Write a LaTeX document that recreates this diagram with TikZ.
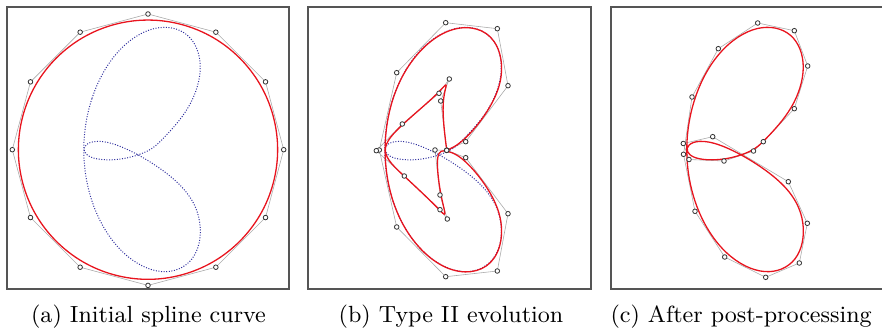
\documentclass[tikz,border=0pt]{standalone}
\usepackage{tikz}
\usetikzlibrary{calc}
\definecolor{ccurve}{HTML}{E8141E}
\definecolor{ctarget}{HTML}{30309E}
\definecolor{cpoly}{HTML}{ABABAB}
\definecolor{cpoint}{HTML}{333333}
\definecolor{cframe}{HTML}{555555}
\tikzset{
  frame/.style={draw=cframe, line width=1.2pt},
  cpoly/.style={draw=cpoly, line width=0.6pt, line join=round},
  cpoint/.style={draw=cpoint, fill=white, line width=0.8pt},
  crv/.style={draw=ccurve, line width=1.3pt, line join=round},
  tgt/.style={draw=ctarget, line width=1pt, dash pattern=on 1pt off 1.6pt},
  subcap/.style={font=\fontsize{9}{11}\selectfont, scale=2.6, inner sep=0pt},
}
% closed uniform cubic B-spline through control points <prefix>-1 ... <prefix>-n
\newcommand{\bsplinecurve}[3]{%
  \pgfmathtruncatemacro\spn{#3+1}%
  \pgfmathtruncatemacro\spm{#3+2}%
  \coordinate (#2-0) at (#2-#3);
  \coordinate (#2-\spn) at (#2-1);
  \coordinate (#2-\spm) at (#2-2);
  \draw[#1] ($0.16667*(#2-0)+0.66667*(#2-1)+0.16667*(#2-2)$)
    \foreach \i [evaluate=\i as \j using int(\i+1), evaluate=\i as \k using int(\i+2)] in {1,...,#3} {
      .. controls ($0.66667*(#2-\i)+0.33333*(#2-\j)$) and ($0.33333*(#2-\i)+0.66667*(#2-\j)$)
      .. ($0.16667*(#2-\i)+0.66667*(#2-\j)+0.16667*(#2-\k)$)
    } -- cycle;
}
\newcommand{\ctrlpolygon}[2]{%
  \draw[cpoly] (#1-1) \foreach \i in {2,...,#2} { -- (#1-\i) } -- cycle;
}
\newcommand{\ctrlpoints}[2]{%
  \foreach \i in {1,...,#2} \draw[cpoint] (#1-\i) circle (2.3);
}
\def\targetpts{692/97, 718.3/48.7, 757.7/23, 794.3/30.7, 807.7/66, 794.3/108.7,
  763.3/141.7, 753.5/151, 724/161, 689/159.5, 683.3/143.5, 712.7/136.7,
  788.3/181.7, 807.3/223.3, 799.3/263, 765.7/277.3, 724.7/257, 695/211.3, 683.5/154.3}
\begin{document}
\begin{tikzpicture}[x=1pt, y=-1pt]
  \useasboundingbox (0,0) rectangle (882,328);

  % (a) initial spline
  \draw[frame] (7,7) rectangle (289,289);
  \foreach \k in {1,...,12}
    \coordinate (a-\k) at ($(148,149.7)+({120-30*\k}:135.7)$);
  \foreach \x/\y [count=\k] in \targetpts
    \coordinate (ta-\k) at (\x-603,\y);
  \ctrlpolygon{a}{12}
  \bsplinecurve{tgt}{ta}{19}
  \bsplinecurve{crv}{a}{12}
  \ctrlpoints{a}{12}
  \node[subcap, anchor=base] (capa) at (148.5,322.7) {(a) Initial spline curve};

  % (b) type II evolution
  \draw[frame] (308,7) rectangle (591,289);
  \foreach \x/\y [count=\k] in {379.3/150, 396.7/72.7, 445.7/22.7, 497.3/28.7, 508/85.7,
      465.7/141.7, 446.7/150.3, 446.7/150.3, 440.7/101, 449.3/79, 439/93.3, 402.3/124,
      376.3/150.7, 404.3/176, 440/209.7, 447.3/219, 440/195, 435/150, 446.7/150.3,
      465.7/157.7, 508/213.7, 497.3/271, 445.7/276.7, 396.7/227}
    \coordinate (b-\k) at (\x,\y);
  \foreach \x/\y [count=\k] in \targetpts
    \coordinate (tb-\k) at (\x-302,\y);
  \ctrlpolygon{b}{24}
  \bsplinecurve{tgt}{tb}{19}
  \bsplinecurve{crv}{b}{24}
  \ctrlpoints{b}{24}
  \node[subcap, anchor=base] (capb) at (451,322.7) {(b) Type II evolution};

  % (c) after post-processing
  \draw[frame] (611,7) rectangle (893,289);
  \foreach \x/\y [count=\k] in \targetpts
    \coordinate (c-\k) at (\x,\y);
  \ctrlpolygon{c}{19}
  \bsplinecurve{crv}{c}{19}
  \ctrlpoints{c}{19}
  \node[subcap, anchor=base west] (capc) at (610,322.7) {(c) After post-processing};
\end{tikzpicture}
\end{document}
